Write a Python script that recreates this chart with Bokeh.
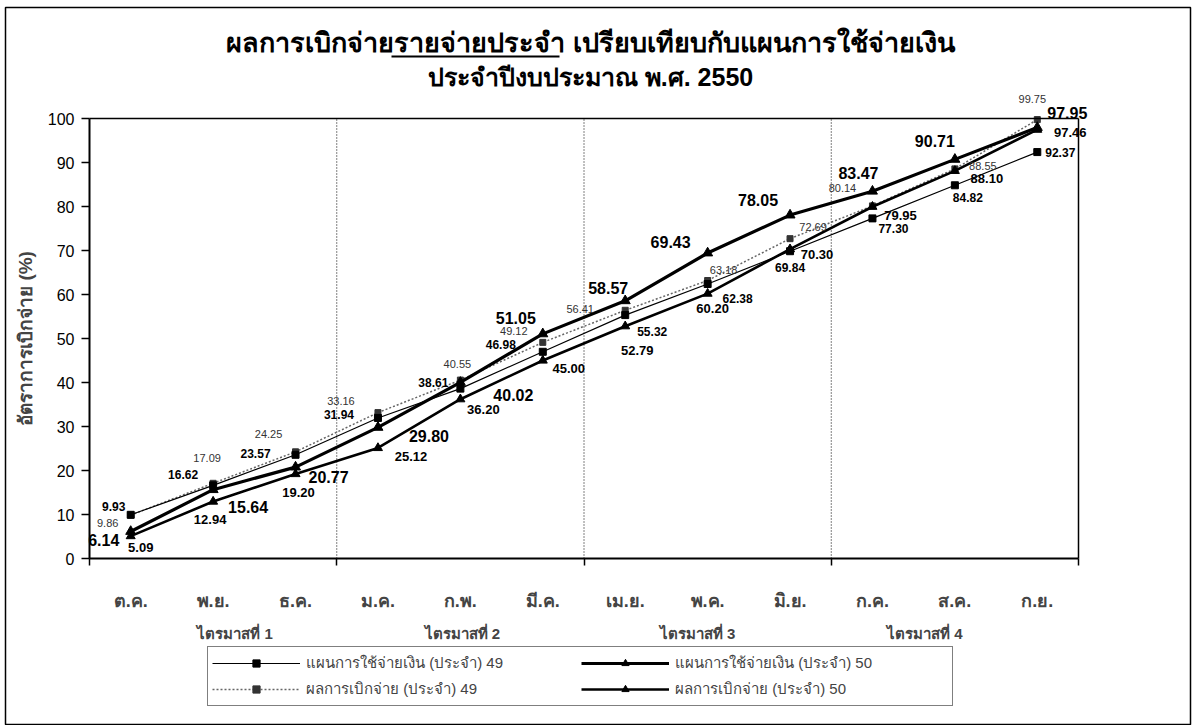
from bokeh.plotting import figure
from bokeh.models import (ColumnDataSource, FixedTicker, LinearAxis, Legend, LegendItem,
                          Label, BoxAnnotation, Range1d)
from bokeh.core.properties import value
from bokeh.embed import file_html
from bokeh.resources import INLINE

# ---------------- data ----------------
months = ["ต.ค.", "พ.ย.", "ธ.ค.", "ม.ค.", "ก.พ.", "มี.ค.",
          "เม.ย.", "พ.ค.", "มิ.ย.", "ก.ค.", "ส.ค.", "ก.ย."]
quarters = ["ไตรมาสที่ 1", "ไตรมาสที่ 2", "ไตรมาสที่ 3", "ไตรมาสที่ 4"]
y_ticks = [0, 10, 20, 30, 40, 50, 60, 70, 80, 90, 100]

plan49 = [9.93, 16.62, 23.57, 31.94, 38.61, 46.98, 55.32, 62.38, 69.84, 77.30, 84.82, 92.37]
actual49 = [9.86, 17.09, 24.25, 33.16, 40.55, 49.12, 56.41, 63.18, 72.69, 80.14, 88.55, 99.75]
plan50 = [6.14, 15.64, 20.77, 29.80, 40.02, 51.05, 58.57, 69.43, 78.05, 83.47, 90.71, 97.95]
actual50 = [5.09, 12.94, 19.20, 25.12, 36.20, 45.00, 52.79, 60.20, 70.30, 79.95, 88.10, 97.46]

names = ["แผนการใช้จ่ายเงิน (ประจำ) 49", "ผลการเบิกจ่าย (ประจำ) 49",
         "แผนการใช้จ่ายเงิน (ประจำ) 50", "ผลการเบิกจ่าย (ประจำ) 50"]
title1 = "ผลการเบิกจ่ายรายจ่ายประจำ เปรียบเทียบกับแผนการใช้จ่ายเงิน"
title2 = "ประจำปีงบประมาณ พ.ศ. 2550"
ylabel = "อัตราการเบิกจ่าย (%)"

# label offsets in screen pixels (dx right, dy down) -- layout only
off_plan49 = [(-17, -8), (-30, -11), (-40, -1), (-39, -3), (-27, -6), (-42, -7),
              (27, 16), (30, 14), (0, 16), (21, 10), (13, 12), (23, 0)]
off_actual49 = [(-23, 8), (-6, -25), (-27, -18), (-37, -12), (-3, -16), (-29, -11),
                (-45, -1), (16, -11), (23, -12), (-30, -18), (28, -3), (-5, -21)]
off_plan50 = [(-27, 9), (35, 17), (33, 10), (51, 9), (53, 13), (-27, -16),
              (-17, -13), (-37, -11), (-32, -15), (-14, -18), (-20, -18), (30, -15)]
off_actual50 = [(10, 11), (-3, 18), (3, 18), (33, 9), (23, 10), (26, 8),
                (12, 24), (5, 15), (27, 5), (28, 9), (32, 8), (33, 3)]
# horizontal nudge (px) of the quarter captions from the quarter centres
q_nudge = [22, 2, -10, -30]

# ---------------- layout (pixels) ----------------
W, H = 1192, 725
FR_L, FR_T, FR_R, FR_B = 5, 7, 1190, 725      # chart-area border = plot frame
X0PX, X1PX = 89, 1078                          # pixel of x=0.5 and x=12.5
Y0PX, Y100PX = 558, 118                        # pixel of y=0 and y=100
n = len(months)
kx = (X1PX - X0PX) / n
ky = (Y0PX - Y100PX) / 100.0

def px2x(px):
    return 0.5 + (px - X0PX) / kx

def px2y(py):
    return (Y0PX - py) / ky

xs = [i + 1 for i in range(n)]
x_lo, x_hi = 0.5, n + 0.5
NUM = "Liberation Sans"

p = figure(width=W, height=H,
           x_range=Range1d(px2x(FR_L), px2x(FR_R)), y_range=Range1d(px2y(FR_B), px2y(FR_T)),
           output_backend="svg", toolbar_location=None,
           min_border_left=FR_L, min_border_right=W - FR_R, min_border_top=FR_T,
           min_border_bottom=H - FR_B, x_axis_type=None, y_axis_type=None)
p.outline_line_color = "black"
p.outline_line_width = 1.5
p.background_fill_color = "white"
p.border_fill_color = "white"

# y axis
yax = LinearAxis(ticker=FixedTicker(ticks=y_ticks, minor_ticks=[]), fixed_location=x_lo,
                 bounds=(y_ticks[0], y_ticks[-1]))
yax.axis_line_width = 2
yax.major_tick_out = 8
yax.major_tick_in = 0
yax.major_tick_line_width = 1.5
yax.major_label_text_font = NUM
yax.major_label_text_font_size = "16px"
yax.major_label_text_color = "black"
yax.major_label_standoff = 7
yax.axis_label = ylabel
yax.axis_label_text_font = NUM
yax.axis_label_text_font_style = "bold"
yax.axis_label_text_font_size = "19px"
yax.axis_label_standoff = 9
p.add_layout(yax, "left")

# right border of the plot area
rax = LinearAxis(ticker=FixedTicker(ticks=[], minor_ticks=[]), fixed_location=x_hi,
                 bounds=(y_ticks[0], y_ticks[-1]))
rax.axis_line_width = 1.5
rax.major_label_text_font_size = "0px"
p.add_layout(rax, "right")

# top border of the plot area
tax = LinearAxis(ticker=FixedTicker(ticks=[], minor_ticks=[]), fixed_location=y_ticks[-1],
                 bounds=(x_lo, x_hi))
tax.axis_line_width = 1.5
tax.major_label_text_font_size = "0px"
p.add_layout(tax, "above")

# x axis: month labels, tick marks at quarter boundaries
bounds = [x_lo + 3 * k for k in range(5)]
xax = LinearAxis(ticker=FixedTicker(ticks=xs, minor_ticks=bounds), fixed_location=0,
                 bounds=(x_lo, x_hi))
xax.major_label_overrides = {x: m for x, m in zip(xs, months)}
xax.axis_line_width = 2
xax.major_tick_out = 0
xax.major_tick_in = 0
xax.minor_tick_out = 7
xax.minor_tick_in = 0
xax.minor_tick_line_width = 1.5
xax.major_label_text_font = NUM
xax.major_label_text_font_style = "bold"
xax.major_label_text_font_size = "18px"
xax.major_label_standoff = 25
p.add_layout(xax, "below")

# quarter captions
qx = [2 + 3 * k + q_nudge[k] / kx for k in range(len(quarters))]
qax = LinearAxis(ticker=FixedTicker(ticks=qx, minor_ticks=[]), fixed_location=0,
                 bounds=(x_lo, x_hi))
qax.major_label_overrides = {x: q for x, q in zip(qx, quarters)}
qax.axis_line_color = None
qax.major_tick_line_color = None
qax.minor_tick_line_color = None
qax.major_label_text_font = NUM
qax.major_label_text_font_style = "bold"
qax.major_label_text_font_size = "15px"
qax.major_label_standoff = 60
p.add_layout(qax, "below")

# dotted quarter separators inside the plot area
inner = bounds[1:-1]
p.segment(x0=inner, y0=[y_ticks[0]] * len(inner), x1=inner, y1=[y_ticks[-1]] * len(inner),
          line_color="black", line_dash="1 2", line_width=1)

# ---------------- series ----------------
def src(vals, offs):
    return ColumnDataSource(dict(x=xs, y=vals, t=["%.2f" % v for v in vals],
                                 dx=[o[0] for o in offs], dy=[o[1] for o in offs]))

s_p49 = src(plan49, off_plan49)
s_a49 = src(actual49, off_actual49)
s_p50 = src(plan50, off_plan50)
s_a50 = src(actual50, off_actual50)

l_a49 = p.line("x", "y", source=s_a49, line_color="#666666", line_width=1.5, line_dash="2 2")
m_a49 = p.scatter("x", "y", source=s_a49, marker="square", size=6, fill_color="#333333", line_color="#333333")
l_p49 = p.line("x", "y", source=s_p49, line_color="black", line_width=1.2)
m_p49 = p.scatter("x", "y", source=s_p49, marker="square", size=7, fill_color="black", line_color="black")
l_a50 = p.line("x", "y", source=s_a50, line_color="black", line_width=2.6)
m_a50 = p.scatter("x", "y", source=s_a50, marker="triangle", size=9, fill_color="black", line_color="black")
l_p50 = p.line("x", "y", source=s_p50, line_color="black", line_width=3.2)
m_p50 = p.scatter("x", "y", source=s_p50, marker="triangle", size=10, fill_color="black", line_color="black")

def labels(s, size, style, color):
    p.text("x", "y", text="t", source=s, x_offset="dx", y_offset="dy",
           text_align="center", text_baseline="middle", text_font=value(NUM),
           text_font_size=size, text_font_style=style, text_color=color)

labels(s_a49, "11px", "normal", "#333333")
labels(s_p49, "12px", "bold", "black")
labels(s_a50, "13px", "bold", "black")
labels(s_p50, "16px", "bold", "black")

# ---------------- title ----------------
TCX = 590
t1 = Label(x=px2x(TCX), y=px2y(42), text=title1,
           text_align="center", text_baseline="middle", text_font=NUM,
           text_font_style="bold", text_font_size="27px", text_color="black")
t2 = Label(x=px2x(TCX), y=px2y(76), text=title2,
           text_align="center", text_baseline="middle", text_font=NUM,
           text_font_style="bold", text_font_size="25px", text_color="black")
p.add_layout(t1)
p.add_layout(t2)
ul = BoxAnnotation(left=px2x(391), right=px2x(559), top=px2y(55), bottom=px2y(57),
                   fill_color="black", fill_alpha=1.0, line_color=None)
p.add_layout(ul)

# ---------------- legend ----------------
LG_L, LG_B = 207, 706
legend = Legend(items=[
    LegendItem(label=names[0], renderers=[l_p49, m_p49]),
    LegendItem(label=names[1], renderers=[l_a49, m_a49]),
    LegendItem(label=names[2], renderers=[l_p50, m_p50]),
    LegendItem(label=names[3], renderers=[l_a50, m_a50]),
], ncols=2, location=(LG_L - FR_L, FR_B - LG_B))
legend.border_line_color = "black"
legend.border_line_width = 1.5
legend.label_text_font = NUM
legend.label_text_font_size = "15px"
legend.glyph_width = 88
legend.glyph_height = 18
legend.label_height = 18
legend.label_width = 273
legend.spacing = 2
legend.padding = 4
legend.margin = 0
legend.label_standoff = 6
p.add_layout(legend, "center")

open("out.html", "w").write(file_html(p, INLINE))
